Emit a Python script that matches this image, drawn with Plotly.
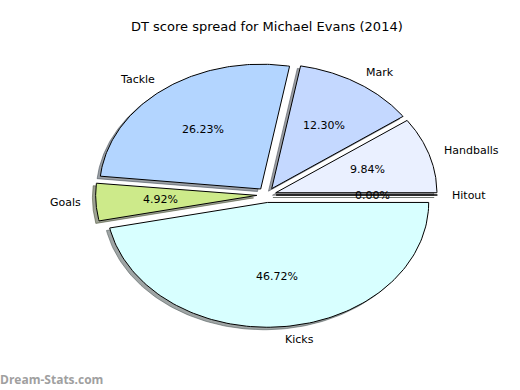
import numpy as np
import plotly.graph_objects as go

# ---- data ----
title = "DT score spread for Michael Evans (2014)"
labels = ["Hitout", "Handballs", "Mark", "Tackle", "Goals", "Kicks"]
values = [0.0, 6.0, 7.5, 16.0, 3.0, 28.5]
colors = ["#e0ffe0", "#eaf0ff", "#c4d8ff", "#b3d5ff", "#cdea8a", "#d8ffff"]
explode = [0.06, 0.06, 0.06, 0.06, 0.06, 0.06]
watermark = "Dream-Stats.com"

FONT = "DejaVu Sans"
start_angle = 0.0
label_dist = 1.1
pct_dist = 0.6
shadow_off = (-0.02, -0.02)


def hex_rgb(h):
    h = h.lstrip("#")
    return [int(h[i:i + 2], 16) for i in (0, 2, 4)]


total = float(sum(values))
fig = go.Figure()

wedges = []
theta1 = start_angle
for lab, v, c, e in zip(labels, values, colors, explode):
    frac = v / total
    theta2 = theta1 + 360.0 * frac
    thm = np.deg2rad((theta1 + theta2) / 2.0)
    cx, cy = e * np.cos(thm), e * np.sin(thm)
    t = np.deg2rad(np.linspace(theta1, theta2, 120))
    xs = np.concatenate([[cx], cx + np.cos(t), [cx]])
    ys = np.concatenate([[cy], cy + np.sin(t), [cy]])
    wedges.append((lab, frac, c, cx, cy, thm, xs, ys))
    theta1 = theta2

# shadows first (below all wedges)
for lab, frac, c, cx, cy, thm, xs, ys in wedges:
    r, g, b = hex_rgb(c)
    sc = f"rgba({int(r*0.3)},{int(g*0.3)},{int(b*0.3)},0.5)"
    fig.add_trace(go.Scatter(x=xs + shadow_off[0], y=ys + shadow_off[1], mode="lines",
                             fill="toself", fillcolor=sc, line=dict(color=sc, width=1),
                             hoverinfo="skip", showlegend=False))

annotations = []
for lab, frac, c, cx, cy, thm, xs, ys in wedges:
    fig.add_trace(go.Scatter(x=xs, y=ys, mode="lines", fill="toself", fillcolor=c,
                             line=dict(color="black", width=1),
                             hoverinfo="skip", showlegend=False))
    lx = cx + label_dist * np.cos(thm)
    ly = cy + label_dist * np.sin(thm)
    right_side = lx > 0
    annotations.append(dict(x=lx, y=ly, xref="x", yref="y", text=lab, showarrow=False,
                            xanchor="left" if right_side else "right", yanchor="middle",
                            xshift=-3 if right_side else 3,
                            font=dict(family=FONT, size=11, color="black")))
    px = cx + pct_dist * np.cos(thm)
    py = cy + pct_dist * np.sin(thm)
    annotations.append(dict(x=px, y=py, xref="x", yref="y", text="%1.2f%%" % (frac * 100),
                            showarrow=False, xanchor="center", yanchor="middle",
                            font=dict(family=FONT, size=11, color="black")))

annotations.append(dict(x=0.5, y=1.0, xref="paper", yref="paper", text=title, showarrow=False,
                        xanchor="center", yanchor="bottom", yshift=3,
                        font=dict(family=FONT, size=13, color="black")))
annotations.append(dict(x=0, y=0, xref="paper", yref="paper", text="<b>" + watermark + "</b>",
                        showarrow=False, xanchor="left", yanchor="bottom",
                        xshift=-67, yshift=-39,
                        font=dict(family="Open Sans", size=12, color="#a0a0a0")))

fig.update_layout(
    width=520, height=390,
    margin=dict(l=65, r=52, t=39, b=39),
    paper_bgcolor="white", plot_bgcolor="white",
    xaxis=dict(range=[-1.25, 1.25], visible=False, fixedrange=True),
    yaxis=dict(range=[-1.25, 1.25], visible=False, fixedrange=True),
    annotations=annotations,
    showlegend=False,
)

fig.write_html("out.html")
